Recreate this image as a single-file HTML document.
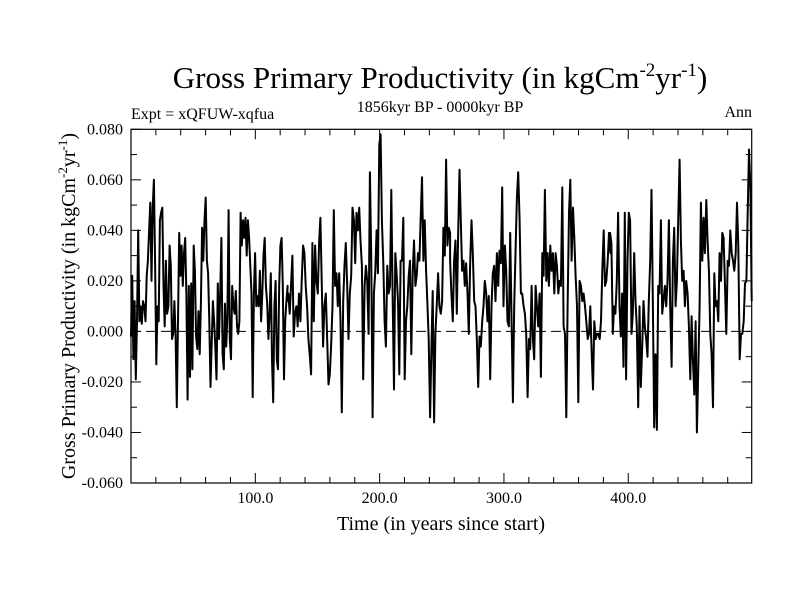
<!DOCTYPE html>
<html><head><meta charset="utf-8"><style>
html,body{margin:0;padding:0;background:#fff}
svg{display:block;font-family:"Liberation Serif",serif}
</style></head><body>
<svg id="chart" width="800" height="600" viewBox="0 0 800 600">
<text x="440" y="88" font-size="31" text-anchor="middle">Gross Primary Productivity (in kgCm<tspan font-size="19" dy="-12">-2</tspan><tspan dy="12">yr</tspan><tspan font-size="19" dy="-12">-1</tspan><tspan dy="12">)</tspan></text>
<text x="131" y="119" font-size="16">Expt = xQFUW-xqfua</text>
<text x="440" y="112" font-size="16" text-anchor="middle">1856kyr BP - 0000kyr BP</text>
<text x="752" y="117" font-size="16" text-anchor="end">Ann</text>
<text transform="translate(75,306) rotate(-90)" font-size="20" text-anchor="middle">Gross Primary Productivity (in kgCm<tspan font-size="13" dy="-8">-2</tspan><tspan dy="8">yr</tspan><tspan font-size="13" dy="-8">-1</tspan><tspan dy="8">)</tspan></text>
<text x="441" y="530" font-size="20" text-anchor="middle">Time (in years since start)</text>
<g id="axes"></g>
<g id="series"></g>
<rect x="131" y="129.3" width="620.7" height="353.7" fill="none" stroke="#000" stroke-width="1.2"/>
</svg>
<script>
const seg1 = [-2,22,-11,12,-19,4,40,4,10,3,12,10,4,22,28,40,51,20,49,60,27,-13,10,4,44,47,49,18,2,28,7,10,34,26,-3,-1,12,-2,-30,4,39,22,34,18,31,37,14,-27,18,-18,19,-15,34,24,-2,-7,8,-9,11,41,28,44,53,28,23,4,-22,-5,12,4,-6,-19,19,-3,15,37,-9,-15,11,-6,6,48,-3,-11,18,10,7,16,2,-1,4,47,34,44,37,45,30,44,37,26,15,-26,15,31,10,14,10,24,4,15,30,37,18,11,-3,7,23,-11,-28,10,20,-11,-15,18,34,37,18,-19,4,12,18];
const seg2 = [12,15,7,18,30,-2,7,10,2,15,4,20,34,31,18,10,-3,-9,-17,35,4,34,20,15,35,45,18,-6,10,15,-2,-21,-17,-6,10,48,18,23,10,23,4,-32,12,26,35,18,-3,15,22,49,44,27,47,40,49,36,26,-19,18,26,20,-1,63,31,-34,15,23,40,23,74,78,44,27,4,-6,26,15,18,56,15,-23,31,23,12,-17,28,28,45,-19,4,10,22,28,-9,23,36,18,22,31,28,45,61,28,44,24,11,-3,-34,-7,16,-36,-1,10,23,10,7,12,41,30,68,34,41,39];
const seg3 = [28,15,4,28,36,7,37,64,44,24,28,18,27,15,-1,26,44,31,12,10,-3,-22,-2,-6,4,10,20,15,4,14,-19,10,23,26,12,31,18,32,27,57,10,34,24,4,2,39,6,-28,10,31,53,63,44,15,15,10,7,-1,-26,-3,-7,18,-3,-11,18,10,2,15,-18,31,22,56,20,31,18,34,24,31,15,31,26,15,20,18,57,2,-1,-34,10,47,60,28,49,37,22,10,-28,20,18,12,15,10,4,-3,-1,10,-9,-23,4,-3,-1,-1,-3,4,24,40,18,20,28,39,31];
const seg4 = [39,35,-1,10,7,20,47,10,-2,15,-14,47,-19,28,47,44,-1,7,31,12,2,-30,10,-22,-6,12,2,-3,-10,12,28,56,10,-38,-9,-39,18,15,44,7,12,18,10,20,44,10,-14,28,41,10,20,44,68,36,20,24,10,20,15,2,-19,6,-11,-25,4,-40,-14,10,51,28,45,31,52,36,23,-1,-9,-30,23,10,12,4,31,20,39,37,18,-1,28,26,40,31,28,24,31,51,34,-11,-1,-1,4,19,20,47,72,57,12];
const segStart = [0, 125.5, 256.7, 385.4];
const segEnd = [126, 256.7, 385.6, 499.3];
const yTickValues = [0.080,0.060,0.040,0.020,0.000,-0.020,-0.040,-0.060];
const yTickLabels = ["0.080","0.060","0.040","0.020","0.000","-0.020","-0.040","-0.060"];
const xTickValues = [100,200,300,400];
const xTickLabels = ["100.0","200.0","300.0","400.0"];

const L=131, R=751.7, T=129.3, B=483;
const xmin=0, xmax=499.3, ymin=-0.06, ymax=0.08;
const xs=v=>L+(v-xmin)/(xmax-xmin)*(R-L);
const ys=v=>B-(v-ymin)/(ymax-ymin)*(B-T);
const NS="http://www.w3.org/2000/svg";
const axes=document.getElementById('axes'), ser=document.getElementById('series');
function mk(tag,attrs,parent){const e=document.createElementNS(NS,tag);for(const k in attrs)e.setAttribute(k,attrs[k]);parent.appendChild(e);return e;}

const zl=mk('line',{x1:L,x2:R,y1:ys(0),y2:ys(0),stroke:'#000','stroke-width':1,'stroke-dasharray':'10,5'},axes);



for(let v=-0.06;v<=0.0801;v+=0.01){
  const y=ys(v), major=Math.abs(Math.round(v*100))%2===0, len=major?10:6;
  const t1=mk('line',{x1:L,x2:L+len,y1:y,y2:y,stroke:'#000','stroke-width':1},axes);
  
  
  const t2=mk('line',{x1:R-len,x2:R,y1:y,y2:y,stroke:'#000','stroke-width':1},axes);
  
  
}
yTickValues.forEach((v,i)=>{
  const t=mk('text',{x:L-8,y:ys(v)+5,'font-size':16,'text-anchor':'end'},axes);
  t.textContent=yTickLabels[i];
  
  
});
for(let v=20;v<xmax;v+=20){
  const x=xs(v), major=v%100===0, len=major?10:6;
  const a=mk('line',{x1:x,x2:x,y1:B,y2:B-len,stroke:'#000','stroke-width':1},axes);
  
  
  const b=mk('line',{x1:x,x2:x,y1:T,y2:T+len,stroke:'#000','stroke-width':1},axes);
  
  
}
xTickValues.forEach((v,i)=>{
  const t=mk('text',{x:xs(v),y:B+20,'font-size':16,'text-anchor':'middle'},axes);
  t.textContent=xTickLabels[i];
  
  
});
const segs=[seg1,seg2,seg3,seg4];
let pts=[];
segs.forEach((s,k)=>{
  const n=s.length;
  s.forEach((v,i)=>{
    const yr=segStart[k]+(segEnd[k]-segStart[k])*i/(n-1);
    pts.push(xs(yr).toFixed(1)+','+ys(v/1000).toFixed(1));
  });
});
const line=mk('polyline',{points:pts.join(' '),fill:'none',stroke:'#000','stroke-width':2,'stroke-linejoin':'round'},ser);


</script>
</body></html>
